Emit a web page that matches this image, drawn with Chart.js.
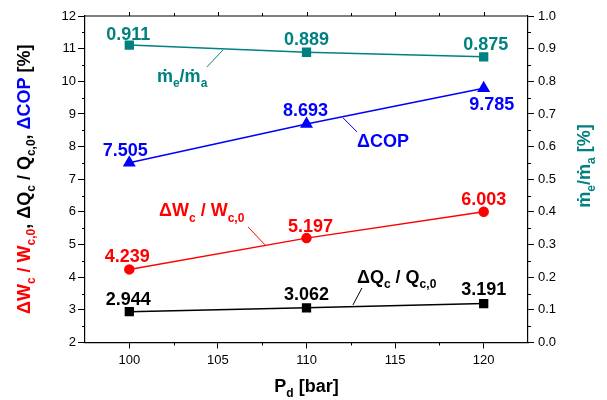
<!DOCTYPE html>
<html lang="en">
<head>
<meta charset="UTF-8">
<title>Effect of discharge pressure</title>
<script src="https://cdn.jsdelivr.net/npm/chart.js"></script>
<style>
  html, body { margin: 0; padding: 0; background: #fff; }
</style>
</head>
<body>
<canvas id="pdChart" width="607" height="400"></canvas>
<script>
// data
const pressures = [100, 110, 120];            // P_d [bar]
const dQc = [2.944, 3.062, 3.191];            // ΔQc / Qc,0 [%]
const dWc = [4.239, 5.197, 6.003];            // ΔWc / Wc,0 [%]
const dCOP = [7.505, 8.693, 9.785];           // ΔCOP [%]
const massRatio = [0.911, 0.889, 0.875];      // m_e / m_a (right axis)
const xTicks = [100, 105, 110, 115, 120];

const FONT = 'Liberation Sans, Arial, DejaVu Sans, sans-serif';
const TEAL = '#008080', BLUE = '#0000ff', RED = '#ff0000', BLACK = '#000000';
Chart.defaults.font.family = FONT;
Chart.defaults.color = '#000';

// rich text: parts = [text, isSub, color]
function richWidth(ctx, parts, size) {
    let w = 0;
    parts.forEach(p => {
        ctx.font = 'bold ' + (p[1] ? Math.round(size * 0.66) : size) + 'px ' + FONT;
        w += ctx.measureText(p[0]).width;
    });
    return w;
}
function drawRich(ctx, parts, x, y, size, color) {
    parts.forEach(p => {
        const s = p[1] ? Math.round(size * 0.66) : size;
        ctx.font = 'bold ' + s + 'px ' + FONT;
        ctx.fillStyle = p[2] || color;
        ctx.fillText(p[0], x, p[1] ? y + size * 0.3 : y);
        x += ctx.measureText(p[0]).width;
    });
}

// value label offsets from marker (px), per dataset
const valueOffsets = [
    [[-1, -13], [0, -14], [0, -15]],
    [[-2, -14], [4, -13], [0, -13]],
    [[-4, -13], [-1, -14], [8, 15]],
    [[-1, -12], [0, -14], [2, -13]]
];

// series names, placed in axis units (x, left y), with leader line
const nameLabels = [
    { x: 101.56, y: 9.98, color: TEAL, parts: [['ṁ'], ['e', 1], ['/ṁ'], ['a', 1]], line: [104.38, 10.44, 105.29, 10.96] },
    { x: 112.85, y: 7.99, color: BLUE, parts: [['ΔCOP']], line: [112.06, 8.88, 112.85, 8.45] },
    { x: 101.68, y: 5.86, color: RED, parts: [['ΔW'], ['c', 1], [' / W'], ['c,0', 1]], line: [106.7, 5.54, 107.66, 4.99] },
    { x: 112.85, y: 3.82, color: BLACK, parts: [['ΔQ'], ['c', 1], [' / Q'], ['c,0', 1]], line: [113.13, 3.67, 112.62, 3.15] }
];

const decorPlugin = {
    id: 'decor',
    afterDraw(chart) {
        const ctx = chart.ctx;
        const a = chart.chartArea;
        const sx = chart.scales.x, sy = chart.scales.y, sy1 = chart.scales.y1;
        ctx.save();

        // top frame line + ticks
        ctx.strokeStyle = '#000';
        ctx.lineWidth = 1.2;
        ctx.beginPath();
        ctx.moveTo(a.left, a.top);
        ctx.lineTo(a.right, a.top);
        ctx.stroke();

        ctx.lineWidth = 1;
        ctx.beginPath();
        for (let v = 100; v <= 120.01; v += 2.5) {
            const px = Math.round(sx.getPixelForValue(v)) + 0.5;
            const major = v % 5 === 0;
            ctx.moveTo(px, a.bottom);
            if (!major) ctx.lineTo(px, a.bottom + 3);
            ctx.moveTo(px, a.top);
            ctx.lineTo(px, a.top - (major ? 4 : 3));
        }
        for (let v = 2.5; v < 12; v += 1) {
            const py = Math.round(sy.getPixelForValue(v)) + 0.5;
            ctx.moveTo(a.left, py);
            ctx.lineTo(a.left - 3, py);
        }
        for (let v = 0.05; v < 1; v += 0.1) {
            const py = Math.round(sy1.getPixelForValue(v)) + 0.5;
            ctx.moveTo(a.right, py);
            ctx.lineTo(a.right + 3, py);
        }
        ctx.stroke();

        // value labels
        ctx.textAlign = 'center';
        ctx.textBaseline = 'alphabetic';
        ctx.font = 'bold 18px ' + FONT;
        chart.data.datasets.forEach((ds, i) => {
            const meta = chart.getDatasetMeta(i);
            meta.data.forEach((pt, j) => {
                const off = valueOffsets[i][j];
                ctx.fillStyle = ds.borderColor;
                ctx.fillText(ds.data[j].y.toFixed(3), pt.x + off[0], pt.y + off[1] + 6.5);
            });
        });

        // series names and leader lines
        ctx.textAlign = 'left';
        nameLabels.forEach(n => {
            ctx.strokeStyle = n.color;
            ctx.lineWidth = 1;
            ctx.beginPath();
            ctx.moveTo(sx.getPixelForValue(n.line[0]), sy.getPixelForValue(n.line[1]));
            ctx.lineTo(sx.getPixelForValue(n.line[2]), sy.getPixelForValue(n.line[3]));
            ctx.stroke();
            drawRich(ctx, n.parts, sx.getPixelForValue(n.x), sy.getPixelForValue(n.y), 18, n.color);
        });

        // x title
        const xParts = [['P'], ['d', 1], [' [bar]']];
        const xw = richWidth(ctx, xParts, 18);
        drawRich(ctx, xParts, (a.left + a.right) / 2 - xw / 2, 392, 18, BLACK);

        // left title (rotated)
        const lParts = [
            ['ΔW', 0, RED], ['c', 1, RED], [' / W', 0, RED], ['c,0', 1, RED], [',', 0, BLACK],
            [' ΔQ', 0, BLACK], ['c', 1, BLACK], [' / Q', 0, BLACK], ['c,0', 1, BLACK], [',', 0, BLACK],
            [' ΔCOP', 0, BLUE], [' [%]', 0, BLACK]
        ];
        const lw = richWidth(ctx, lParts, 18);
        ctx.save();
        ctx.translate(30, (a.top + a.bottom) / 2);
        ctx.rotate(-Math.PI / 2);
        drawRich(ctx, lParts, -lw / 2, 0, 18, BLACK);
        ctx.restore();

        // right title (rotated)
        const rParts = [['ṁ'], ['e', 1], ['/ṁ'], ['a', 1], [' [%]']];
        const rw = richWidth(ctx, rParts, 18);
        ctx.save();
        ctx.translate(590, 166);
        ctx.rotate(-Math.PI / 2);
        drawRich(ctx, rParts, -rw / 2, 0, 18, TEAL);
        ctx.restore();

        ctx.restore();
    }
};

function series(values, color, style, radius, axis) {
    return {
        data: pressures.map((p, i) => ({ x: p, y: values[i] })),
        borderColor: color,
        backgroundColor: color,
        borderWidth: 1.5,
        pointStyle: style,
        pointRadius: radius,
        pointHoverRadius: radius,
        yAxisID: axis
    };
}

const ctx = document.getElementById('pdChart').getContext('2d');
new Chart(ctx, {
    type: 'line',
    data: {
        datasets: [
            series(dQc, BLACK, 'rect', 5.5, 'y'),
            series(dWc, RED, 'circle', 4.5, 'y'),
            series(dCOP, BLUE, 'triangle', 6, 'y'),
            series(massRatio, TEAL, 'rect', 5.5, 'y1')
        ]
    },
    options: {
        responsive: false,
        animation: false,
        layout: { padding: { top: 16, left: 0, right: 0, bottom: 0 } },
        plugins: { legend: { display: false }, tooltip: { enabled: false } },
        scales: {
            x: {
                type: 'linear',
                min: 97.5, max: 122.5,
                afterBuildTicks: s => { s.ticks = xTicks.map(v => ({ value: v })); },
                afterFit: s => { s.height = 57.5; },
                grid: { drawOnChartArea: false, tickLength: 6, color: '#000' },
                border: { color: '#000', width: 1.2 },
                ticks: { padding: 4, font: { size: 13 }, color: '#000' }
            },
            y: {
                position: 'left',
                min: 2, max: 12,
                afterFit: s => { s.width = 85; },
                grid: { drawOnChartArea: false, tickLength: 7, color: '#000' },
                border: { color: '#000', width: 1.2 },
                ticks: { stepSize: 1, padding: 2, font: { size: 13 }, color: '#000' }
            },
            y1: {
                position: 'right',
                min: 0, max: 1,
                afterFit: s => { s.width = 79; },
                grid: { drawOnChartArea: false, tickLength: 6, color: '#000' },
                border: { color: '#000', width: 1.2 },
                ticks: { stepSize: 0.1, padding: 4, font: { size: 13 }, color: '#000', callback: v => v.toFixed(1) }
            }
        }
    },
    plugins: [decorPlugin]
});
</script>
</body>
</html>
